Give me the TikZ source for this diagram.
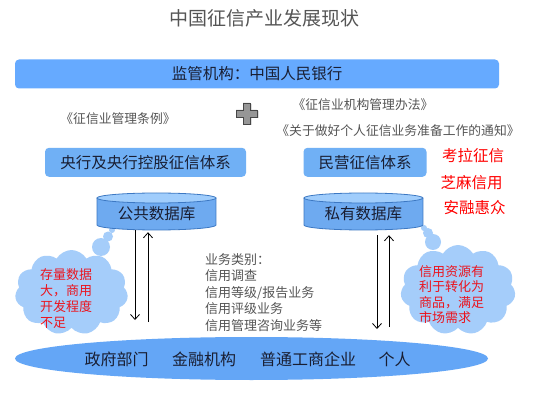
\documentclass[tikz,border=0pt]{standalone}
\usepackage{fontspec}
\setmainfont{Noto Sans CJK SC}
\usetikzlibrary{arrows.meta,shapes.geometric,shapes.symbols}
\definecolor{bannerblue}{RGB}{102,170,255}
\definecolor{boxblue}{RGB}{112,176,245}
\definecolor{cylbody}{RGB}{110,170,240}
\definecolor{cyltop}{RGB}{160,205,252}
\definecolor{cylline}{RGB}{60,120,195}
\definecolor{cloudblue}{RGB}{165,205,250}
\definecolor{ellblue}{RGB}{100,166,246}
\definecolor{darktext}{RGB}{25,30,50}
\definecolor{graytext}{RGB}{85,85,85}
\definecolor{redtext}{RGB}{235,20,30}
\tikzset{
  banner/.style={fill=bannerblue, rounded corners=4pt, minimum width=484pt, minimum height=29pt, inner sep=0pt, text=darktext, font=\fontsize{15.5}{18}\selectfont},
  sysbox/.style={fill=boxblue, rounded corners=4pt, minimum height=29pt, inner sep=0pt, text=darktext, font=\fontsize{15.5}{18}\selectfont},
  lawtext/.style={text=graytext, inner sep=0pt, font=\fontsize{12.8}{15}\selectfont},
  redlabel/.style={text=red, inner sep=0pt, font=\fontsize{15.5}{18}\selectfont},
  cyltext/.style={minimum width=119pt, minimum height=32pt, inner sep=0pt, text=darktext, font=\fontsize{15.5}{18}\selectfont},
  arr/.style={line width=0.8pt, -{Straight Barb[length=5pt,width=9pt]}},
  cloudsty/.style={cloud, cloud puffs=11, cloud puff arc=120, fill=cloudblue, inner sep=0pt},
  bubble/.style={fill=cloudblue},
  cloudtext/.style={text=redtext, align=left, inner sep=0pt, anchor=west},
  usertext/.style={text=darktext, inner sep=0pt, font=\fontsize{16}{18}\selectfont},
}
\begin{document}
\begin{tikzpicture}[x=1pt,y=-1pt]
\useasboundingbox (0,0) rectangle (536,417);
\fill[white] (0,0) rectangle (536,417);

% title
\node[text=graytext, inner sep=0pt, font=\fontsize{19}{22}\selectfont] (title) at (264,18.5) {中国征信产业发展现状};

% regulator banner
\node[banner] (reg) at (257,74) {监管机构：中国人民银行};

% laws
\node[lawtext] (law1) at (118,119) {《征信业管理条例》};
\node[lawtext] (law2) at (363,105) {《征信业机构管理办法》};
\node[lawtext] (law3) at (398,131) {《关于做好个人征信业务准备工作的通知》};

% plus sign
\fill[gray!40] (243.5+1,103+1) -- ++(7,0) -- ++(0,7) -- ++(7,0) -- ++(0,7) -- ++(-7,0) -- ++(0,7) -- ++(-7,0) -- ++(0,-7) -- ++(-7,0) -- ++(0,-7) -- ++(7,0) -- cycle;
\filldraw[fill={rgb,255:red,150;green,150;blue,150}, draw={rgb,255:red,70;green,70;blue,70}, line width=0.8pt]
  (243,103) -- ++(7,0) -- ++(0,7) -- ++(7,0) -- ++(0,7) -- ++(-7,0) -- ++(0,7) -- ++(-7,0) -- ++(0,-7) -- ++(-7,0) -- ++(0,-7) -- ++(7,0) -- cycle;

% system boxes
\node[sysbox, minimum width=201pt] (central) at (145.5,162.3) {央行及央行控股征信体系};
\node[sysbox, minimum width=123pt] (private) at (365,162.3) {民营征信体系};

% red labels
\node[redlabel] (kl) at (473,156) {考拉征信};
\node[redlabel] (zm) at (471.7,182.7) {芝麻信用};
\node[redlabel] (ar) at (474.5,208) {安融惠众};

% clouds
\node[cloudsty, minimum width=113pt, minimum height=85pt] (lcloud) at (71.5,292.5) {};
\fill[bubble] (101,247) circle (9pt);
\fill[bubble] (108,236.5) circle (5pt);
\fill[bubble] (112,230) circle (3pt);
\node[cloudsty, minimum width=115pt, minimum height=90pt] (rcloud) at (458,290) {};
\fill[bubble] (433,242) circle (8pt);
\fill[bubble] (428,233) circle (5pt);
\fill[bubble] (424,228) circle (3pt);

\node[cloudtext, font=\fontsize{13}{16}\selectfont] (ltext) at (40,299) {存量数据\\大，商用\\开发程度\\不足};
\node[cloudtext, font=\fontsize{13}{15.3}\selectfont] (rtext) at (419,294.5) {信用资源有\\利于转化为\\商品，满足\\市场需求};

% cylinders
\foreach \cx in {156.5,363.4}{
  \fill[cylbody] (\cx-59.5,198) rectangle (\cx+59.5,225);
  \fill[cylbody] (\cx,225) ellipse [x radius=59.5pt, y radius=5pt];
  \draw[cylline, line width=0.8pt] (\cx-59.5,198) -- (\cx-59.5,225) arc[start angle=180, end angle=360, x radius=59.5pt, y radius=5pt] -- (\cx+59.5,198);
  \filldraw[fill=cyltop, draw=cylline, line width=0.8pt] (\cx,198) ellipse [x radius=59.5pt, y radius=5pt];
}
\node[cyltext] (pub) at (156.5,214) {公共数据库};
\node[cyltext] (pri) at (363.4,214) {私有数据库};

% users ellipse
\node[ellipse, fill=ellblue, minimum width=473pt, minimum height=43pt, inner sep=0pt] (users) at (251.5,358.5) {};
\node[usertext] (gov) at (116.5,359) {政府部门};
\node[usertext] (fin) at (204,359) {金融机构};
\node[usertext] (ent) at (308,359) {普通工商企业};
\node[usertext] (ind) at (394.7,359) {个人};

% arrows
\coordinate (ldn) at (135,320);
\coordinate (lup) at (148,322);
\coordinate (rdn) at (377,329);
\coordinate (rup) at (389,327);
\draw[arr] (pub.south -| ldn) -- (ldn);
\draw[arr, shorten >=2pt] (lup) -- (pub.south -| lup);
\draw[arr, shorten <=5pt] (pri.south -| rdn) -- (rdn);
\draw[arr, shorten >=5pt] (rup) -- (pri.south -| rup);

% business text
\node[anchor=west, align=left, inner sep=0pt, text=graytext, font=\fontsize{13}{16.4}\selectfont] (biz) at (205,292.5) {业务类别：\\信用调查\\信用等级/报告业务\\信用评级业务\\信用管理咨询业务等};
\end{tikzpicture}
\end{document}
